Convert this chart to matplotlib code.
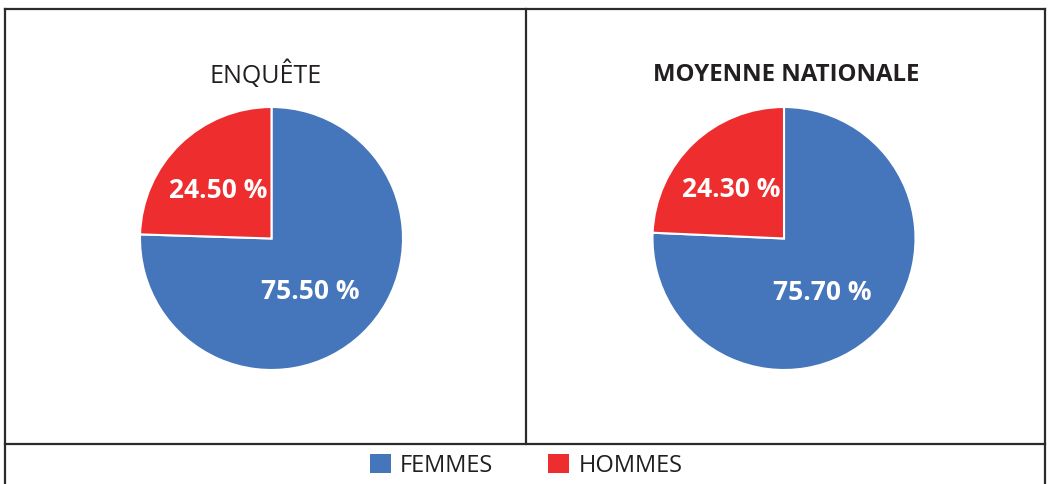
import matplotlib
matplotlib.use("Agg")
import numpy as np
import matplotlib.pyplot as plt
from matplotlib.lines import Line2D

plt.rcParams['font.family'] = ['Open Sans', 'DejaVu Sans']

categories = ['FEMMES', 'HOMMES']
enquete = [75.5, 24.5]
nationale = [75.7, 24.3]
titles = ['ENQUÊTE', 'MOYENNE NATIONALE']
title_weights = ['normal', 'bold']
colors = ['#4575BA', '#EE2D2E']

W, H = 1050, 484
fig = plt.figure(figsize=(W / 100, H / 100), dpi=100)
fig.patch.set_facecolor('white')

def fx(px):
    return px / W

def fy(py):
    return 1 - py / H

R = 131.5
centers = [(271.5, 238.5), (784.0, 238.5)]
title_x = [266, 786]
datasets = [enquete, nationale]
# label placement (radius fraction, angle shift in degrees) per category
label_r = [0.50, 0.545]
label_shift = [-8.5, 3.5]
wedges_all = []
for (cx, cy), tx, data, title, tw in zip(centers, title_x, datasets, titles, title_weights):
    ax = fig.add_axes([fx(cx - R), fy(cy + R), 2 * R / W, 2 * R / H])
    wedges, texts, autotexts = ax.pie(
        data, colors=colors, startangle=90, counterclock=False,
        autopct=lambda p: f'{p:.2f} %', pctdistance=0.53,
        wedgeprops=dict(edgecolor='white', linewidth=1.5),
        textprops=dict(color='white', fontsize=19, fontweight='bold'))
    for w, t, r, s in zip(wedges, autotexts, label_r, label_shift):
        ang = np.deg2rad((w.theta1 + w.theta2) / 2 + s)
        t.set_position((r * np.cos(ang), r * np.sin(ang)))
    ax.set_xlim(-1, 1)
    ax.set_ylim(-1, 1)
    ax.set_aspect('equal')
    ax.axis('off')
    wedges_all.append(wedges)
    fig.text(fx(tx), fy(75), title, ha='center', va='center',
             fontsize=17.3 if tw == 'bold' else 18, fontweight=tw, color='#231F20')

# Box frame lines
lc = '#2B2B2B'
lw = 1.6
x0, xm, x1 = fx(4.5), fx(525.5), fx(1045)
ytop, ymid, ybot = fy(8.5), fy(443.5), fy(490)
for xs, ys in [([x0, x1], [ytop, ytop]), ([x0, x1], [ymid, ymid]),
               ([x0, x0], [ytop, ybot]), ([x1, x1], [ytop, ybot]),
               ([xm, xm], [ytop, ymid])]:
    fig.add_artist(Line2D(xs, ys, color=lc, linewidth=lw, transform=fig.transFigure))

leg = fig.legend(wedges_all[0], categories, loc='center', bbox_to_anchor=(fx(526), fy(465.5)),
                 ncol=2, frameon=False, fontsize=17, handlelength=0.9, handleheight=0.9,
                 handletextpad=0.4, columnspacing=2.3)
for t in leg.get_texts():
    t.set_color('#231F20')
for h in leg.legend_handles:
    h.set_edgecolor('none')

fig.savefig('out.png', dpi=100, facecolor='white')
